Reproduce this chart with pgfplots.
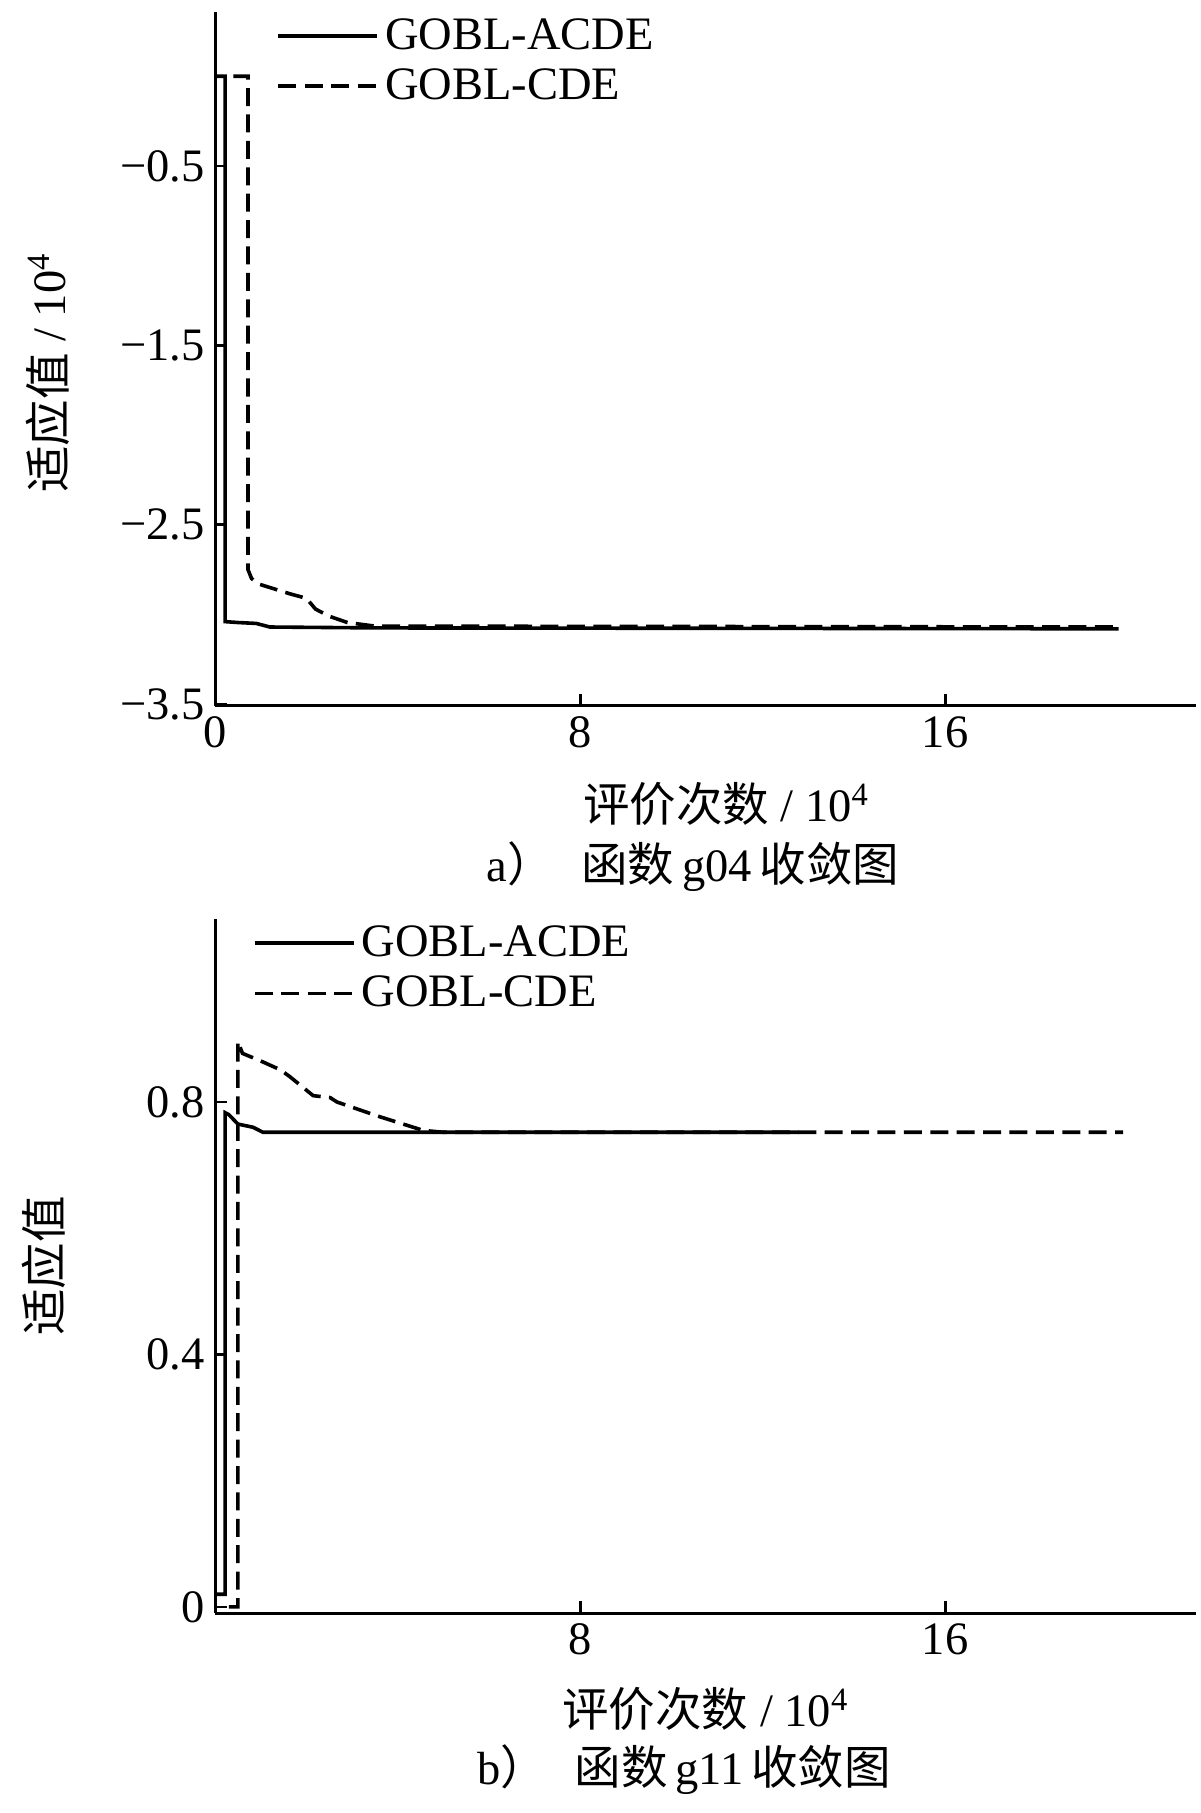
\documentclass[border=0pt]{standalone}
\usepackage{fontspec}
\setmainfont{Liberation Serif}
\newfontfamily\cjk{Noto Sans CJK SC}
\usepackage{pgfplots}
\pgfplotsset{compat=1.18}

\pgfplotsset{
  myaxis/.style={
    scale only axis, width=327pt, height=231.4pt,
    axis x line=bottom, axis y line=left,
    axis line style={-, line width=1pt, black},
    tick align=inside, major tick length=4pt,
    every tick/.style={line width=0.9pt, black},
    tick label style={font=\fontsize{15.5}{17}\selectfont},
    /pgf/number format/assume math mode=true,
    xmin=0, xmax=21.5,
    xlabel style={font=\fontsize{15.5}{17}\selectfont, anchor=center},
    ylabel style={font=\fontsize{15.5}{17}\selectfont, anchor=center, rotate=0},
    legend style={draw=none, fill=none, inner sep=0pt, font=\fontsize{15.5}{17}\selectfont,
      row sep=1pt, anchor=north west, legend cell align=left},
    legend image code/.code={\draw[#1] (0pt,0pt) -- (33pt,0pt);},
  },
  acde/.style={black, solid, no markers, line width=1.2pt, line join=miter},
  cde/.style={black, no markers, line width=1.2pt, line join=miter, dash pattern=on 6pt off 2.8pt},
}

\begin{document}
\begin{tikzpicture}
\path[use as bounding box] (0pt,0pt) rectangle (400pt,-604.3pt);

% ---------------- (a) g04 ----------------
\begin{axis}[myaxis,
  at={(71.7pt,-3.9pt)}, anchor=north west,
  ymin=-3.51, ymax=0.36,
  xtick={0,8,16}, xticklabels={0,8,16},
  ytick={-0.5,-1.5,-2.5,-3.5}, yticklabels={−0.5,−1.5,−2.5,−3.5},
  xlabel={{\cjk 评价次数} / 10\textsuperscript{4}},
  xlabel style={at={(axis description cs:0.521,-0.1405)}},
  ylabel={{\cjk 适应值} / 10\textsuperscript{4}},
  ylabel style={at={(axis description cs:-0.171,0.48)}},
  legend style={at={(axis description cs:0.062,1.0)}},
  extra description/.code={
    \node[font=\fontsize{15.5}{17}\selectfont, anchor=center] at (axis description cs:0.487,-0.232)
      {a{\cjk ）}\hspace{0.6em}{\cjk 函数}\,g04\,{\cjk 收敛图}};
  },
]
\addplot[acde] coordinates {
  (0,0) (0.22,0) (0.22,-3.04) (0.5,-3.045) (0.9,-3.05) (1.2,-3.07)
  (3.5,-3.075) (19.8,-3.08)
};
\addlegendentry{GOBL-ACDE}
\addplot[cde] coordinates {
  (0.4,0) (0.72,0) (0.72,-2.75) (0.8,-2.80) (0.95,-2.83) (1.64,-2.885)
  (2.0,-2.91) (2.2,-2.97) (2.5,-3.01) (2.9,-3.045) (3.5,-3.065) (19.8,-3.07)
};
\addlegendentry{GOBL-CDE}
\end{axis}

% ---------------- (b) g11 ----------------
\begin{axis}[myaxis,
  at={(71.7pt,-306.3pt)}, anchor=north west,
  ymin=-0.01, ymax=1.09,
  xtick={8,16}, xticklabels={8,16},
  ytick={0,0.4,0.8}, yticklabels={0,0.4,0.8},
  xlabel={{\cjk 评价次数} / 10\textsuperscript{4}},
  xlabel style={at={(axis description cs:0.5,-0.138)}},
  ylabel={{\cjk 适应值}},
  ylabel style={at={(axis description cs:-0.175,0.5)}},
  legend style={at={(axis description cs:0.038,1.0)}},
  extra description/.code={
    \node[font=\fontsize{15.5}{17}\selectfont, anchor=center] at (axis description cs:0.478,-0.226)
      {b{\cjk ）}\hspace{0.6em}{\cjk 函数}\,g11\,{\cjk 收敛图}};
  },
]
\addplot[acde] coordinates {
  (0,0.02) (0.22,0.02) (0.22,0.783) (0.3,0.78) (0.5,0.765) (0.83,0.76)
  (1.05,0.752) (12.8,0.752)
};
\addlegendentry{GOBL-ACDE}
\addplot[cde] coordinates {
  (0.3,0) (0.5,0) (0.5,0.896) (0.6,0.877) (1.0,0.865) (1.43,0.851)
  (1.64,0.84) (2.15,0.81) (2.52,0.807) (2.67,0.80) (3.55,0.778)
  (4.56,0.755) (5.0,0.752) (19.9,0.752)
};
\addlegendentry{GOBL-CDE}
\end{axis}
\end{tikzpicture}
\end{document}
